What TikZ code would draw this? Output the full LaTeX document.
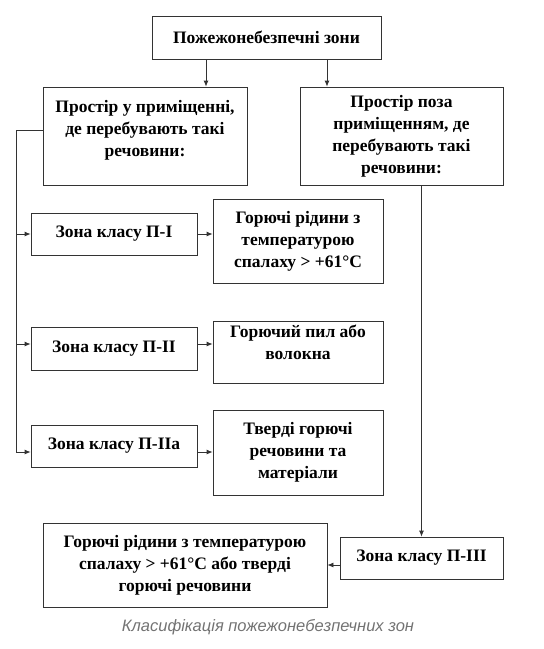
\documentclass[tikz,border=0pt]{standalone}
\usepackage{fontspec}
\setmainfont{Liberation Serif}
\newfontfamily\capfont{Liberation Sans}
\usetikzlibrary{arrows.meta}

\begin{document}
\begin{tikzpicture}[x=1pt,y=-1pt,
  box/.style={draw=black!80, line width=0.8pt, align=center, inner sep=0pt,
    font=\bfseries\fontsize{17.5}{22}\selectfont},
  arr/.style={-{Latex[length=6pt,width=5pt]}, draw=black!80, line width=0.8pt}]
\useasboundingbox (0,0) rectangle (544,649);
% top level
\node[box, minimum width=229pt, minimum height=43pt] (zones) at (266.5,37.5) {Пожежонебезпечні зони};
\node[box, minimum width=204pt, minimum height=98pt, text depth=16pt] (inroom) at (145,136)
  {Простір у приміщенні,\\де перебувають такі\\речовини:};
\node[box, minimum width=203pt, minimum height=98pt] (outroom) at (401.5,136)
  {Простір поза\\приміщенням, де\\перебувають такі\\речовини:};
% zones inside
\node[box, minimum width=166pt, minimum height=42pt] (zI) at (114,234) {Зона класу П-І};
\node[box, minimum width=170pt, minimum height=84pt] (mI) at (298,241)
  {Горючі рідини з\\температурою\\спалаху > +61°C};
\node[box, minimum width=166pt, minimum height=43pt] (zII) at (114,348.5) {Зона класу П-ІІ};
\node[box, minimum width=170pt, minimum height=62pt, text depth=20pt] (mII) at (298,352)
  {Горючий пил або\\волокна};
\node[box, minimum width=166pt, minimum height=42pt] (zIIa) at (114,446) {Зона класу П-ІІа};
\node[box, minimum width=170pt, minimum height=85pt] (mIIa) at (298,452.5)
  {Тверді горючі\\речовини та\\матеріали};
% zone outside
\node[box, minimum width=163pt, minimum height=42pt] (zIII) at (421.5,558) {Зона класу П-ІІІ};
\node[box, minimum width=284pt, minimum height=84pt] (mIII) at (185,565)
  {Горючі рідини з температурою\\спалаху > +61°C або тверді\\горючі речовини};
% caption
\node[font=\capfont\itshape\fontsize{16.5}{20}\selectfont, text=black!55] (caption) at (268,627)
  {Класифікація пожежонебезпечних зон};
% connectors
\draw[arr] ([xshift=-60.5pt]zones.south) -- ([xshift=-60.5pt]zones.south |- inroom.north);
\draw[arr] ([xshift=60.5pt]zones.south) -- ([xshift=60.5pt]zones.south |- outroom.north);
\coordinate (spine) at (16,0);
\draw[draw=black!80, line width=0.8pt] ([yshift=6pt]inroom.west) -| ([yshift=-6pt]spine |- zIIa.west);
\foreach \z/\m/\s in {zI/mI/0, zII/mII/4.5, zIIa/mIIa/-6} % rows of the inside zones
{
\draw[arr] ([yshift=\s pt]spine |- \z.west) -- ([yshift=\s pt]\z.west);
\draw[arr] ([yshift=\s pt]\z.east) -- ([yshift=\s pt]\z.east -| \m.west);
}
\draw[arr] (outroom.south -| zIII.north) -- (zIII.north);
\draw[arr] (mIII.east -| zIII.west) -- (mIII.east);
\end{tikzpicture}
\end{document}
